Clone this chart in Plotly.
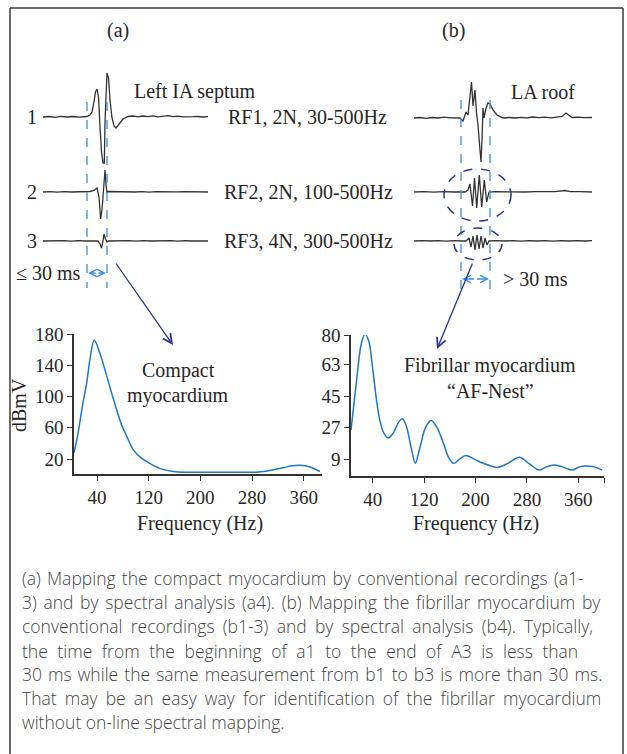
import plotly.graph_objects as go

W, H = 627, 754

# ---------------- spectral data ----------------
freq_a = [4.5, 10, 14, 19, 24, 29, 35.8, 44.6, 52, 60, 70.5, 78, 86, 96, 106, 117, 137, 158,
          180, 220, 260, 290, 312, 330, 340, 354, 370, 385]
dbmv_a = [28, 50, 70, 95, 117, 147, 172, 155, 135, 112, 83, 64, 49, 32, 23, 16.6, 8, 4,
          3, 3.2, 3, 3.3, 6, 9, 11, 12, 9.8, 4]

freq_b = [6, 15, 22, 28, 34, 40, 46, 51, 57, 64, 72, 80, 86, 92, 100, 106, 113, 122, 131, 140,
          150, 158, 166, 175, 185, 200, 216, 234, 250, 268, 283, 299, 310, 322, 335, 350, 362,
          371, 385, 397]
dbmv_b = [25.6, 55, 75, 80.5, 76, 60, 42, 31, 24, 21, 24, 30, 32, 28, 15, 6.5, 15, 27, 31, 27,
          18, 10, 6.5, 9, 11, 8.5, 6, 4.2, 6.5, 10, 6.5, 2.7, 4.5, 5.6, 4.5, 2.7, 4.5,
          5, 4.5, 2.7]

x_ticks = [40, 120, 200, 280, 360]
y_ticks_a = [20, 60, 100, 140, 180]
y_ticks_b = [9, 27, 45, 63, 80]

# ---------------- electrogram samples (time, amplitude) ----------------
a1_t = [0, 6, 12, 18, 24, 30, 36, 41, 44, 47, 49, 51, 52.5, 54, 55.5, 57, 58.5, 60, 61.3, 62, 63,
        64, 65.5, 67, 69, 71, 73, 76, 80, 85, 90, 95, 100, 105, 110, 115, 120, 125, 130, 135,
        140, 145, 150, 155, 160, 165]
a1_v = [0, 0.5, -0.3, 0.6, 0, 0.5, -0.2, 0.3, 0.5, 2, 5, 15, 25, 28, 20, -10, -35, -46, -46, -5, 30,
        44, 39, 17, -1, -9, -11, -7, -2, 0.5, 1, 0.2, 1, 0.3, 1.2, 0.2, 0.8, 1.3, 0.3, 0.8,
        0.2, 0.6, 0.3, 0.5, 0, 0.3]
a2_t = [0, 7, 14, 21, 28, 35, 42, 47, 51, 54, 56, 57.7, 59, 60.5, 62, 63, 64, 65, 71, 78, 85, 92,
        99, 106, 113, 120, 127, 134, 141, 148, 155, 165]
a2_v = [0, 0.3, -0.2, 0.3, 0, 0.3, 0, 0.5, 1.5, 4, -5, -27, -18, 2, 22, 8, -1, 0.5, 0.3, 0, 0.4, 0,
        0.3, -0.2, 0.3, 0, 0.3, 0.1, 0.3, 0, 0.3, 0]
a3_t = [0, 7, 14, 21, 28, 35, 42, 49, 55, 57, 58.5, 60, 61, 62.5, 64, 65, 72, 79, 86, 93, 100, 107,
        114, 121, 128, 135, 142, 149, 156, 165]
a3_v = [0, 0.3, 0, 0.3, -0.2, 0.3, 0, 0.3, 0, -3, -7, 0, 7, 2, -1, 0, 0.3, 0, 0.3, -0.2, 0.3, 0,
        0.3, 0, 0.3, -0.2, 0.3, 0, 0.3, 0]

b1_t = [0, 6, 12, 18, 24, 30, 36, 42, 46, 49, 52, 54, 56, 57.5, 59, 61, 62.5, 64, 66, 67, 68, 69,
        70, 72, 74, 76, 79, 83, 89, 95, 101, 107, 113, 119, 125, 131, 137, 143, 148, 152, 155,
        158, 164, 170, 178]
b1_v = [0, 0.5, -0.3, 0.5, 0, 0.8, 0.2, 0.5, 0, -3, 6, 3, 23, 36, 12, 28, 5, -7, -32, -44, -22, 10,
        0, 10, 15, 14, 8, 3, 0, 0.5, 0, 0.6, 0.2, 1, 0.3, 0.8, 0.2, 0.8, 1.5, 5, 3,
        0.5, 0.8, 0.3, 0.5]
b2_t = [0, 10, 20, 30, 40, 48, 51, 54, 56, 58.5, 60.5, 62.7, 65.3, 67.7, 70.3, 72.7, 75, 81, 91,
        101, 111, 121, 131, 141, 151, 156, 166, 178]
b2_v = [0, 0.3, -0.2, 0.3, 0, 0.2, 0, 2, 8, -14, 14, -16, 17, -15, 12, -10, 0, 0.3, 0,
        0.4, 0, 0.3, 0.2, 0.4, 1.5, 0.3, 0.4, 0]
b3_t = [0, 8, 16, 24, 32, 40, 48, 52, 55, 57, 59, 61, 63, 65, 67, 69, 71, 73, 75, 83, 91, 99, 107,
        115, 123, 131, 139, 147, 155, 163, 171, 178]
b3_v = [0, 0.4, 0, 0.4, -0.2, 0.4, 0, 0, 3, -6, 5, -9, 6, -8, 5, -7, 3, -4, 0, 0.4, 0, 0.4, -0.2,
        0.4, 0, 0.4, -0.2, 0.4, 0, 0.4, 0, 0.3]

caption = [
    "(a) Mapping the compact myocardium by conventional recordings (a1-",
    "3) and by spectral analysis (a4). (b) Mapping the fibrillar myocardium by",
    "conventional recordings (b1-3) and by spectral analysis (b4). Typically,",
    "the time from the beginning of a1 to the end of A3 is less than",
    "30 ms while the same measurement from b1 to b3 is more than 30 ms.",
    "That may be an easy way for identification of the fibrillar myocardium",
    "without on-line spectral mapping.",
]

# ---------------- styling / layout constants ----------------
SERIF = "Liberation Serif, Times New Roman, serif"
SANS = "Open Sans, Noto Sans, sans-serif"
TXT = "#262626"
BLUE = "#1f78c8"
DASHBLUE = "#3a8fd8"
NAVY = "#2b3590"
EGM = "#333333"
CAP_SIZE = 17.5
CAP_LEFT, CAP_RIGHT = 20, 601
# estimated natural line widths (px at 16 px font) used to justify the caption
CAP_NATURAL_16 = [519, 510, 504, 467, 512, 495, None]


def px(v):
    return v / W


def py(v):
    return 1 - v / H


fig = go.Figure()

fig.add_trace(go.Scatter(x=freq_a, y=dbmv_a, mode="lines",
                         line=dict(color=BLUE, width=1.5, shape="spline", smoothing=1.0),
                         xaxis="x", yaxis="y", hoverinfo="skip"))
fig.add_trace(go.Scatter(x=freq_b, y=dbmv_b, mode="lines",
                         line=dict(color=BLUE, width=1.5, shape="spline", smoothing=0.9),
                         xaxis="x2", yaxis="y2", hoverinfo="skip"))

egms = [
    (a1_t, a1_v, 43, 117), (a2_t, a2_v, 43, 192), (a3_t, a3_v, 43, 241),
    (b1_t, b1_v, 414, 118), (b2_t, b2_v, 414, 192), (b3_t, b3_v, 414, 241),
]
for t, v, x0, base in egms:
    fig.add_trace(go.Scatter(x=[x0 + ti for ti in t], y=[base - vi for vi in v], mode="lines",
                             line=dict(color=EGM, width=1.3), xaxis="x3", yaxis="y3",
                             hoverinfo="skip"))

axis_common = dict(showgrid=False, zeroline=False, showline=True, linecolor="#333", linewidth=1.5,
                   ticks="outside", ticklen=5, tickwidth=1.3, tickcolor="#333",
                   tickfont=dict(family=SERIF, size=19, color=TXT), automargin=False)

fig.update_layout(
    width=W, height=H, margin=dict(l=0, r=0, t=0, b=0, autoexpand=False),
    paper_bgcolor="white", plot_bgcolor="rgba(0,0,0,0)", showlegend=False,
    xaxis=dict(domain=[px(74), px(322)], range=[4.4, 388.3], tickvals=x_ticks, anchor="y", **axis_common),
    yaxis=dict(domain=[py(474), py(334)], range=[0.8, 180], tickvals=y_ticks_a, anchor="x", **axis_common),
    xaxis2=dict(domain=[px(351), px(604)], range=[6, 400], tickvals=x_ticks + [400],
                ticktext=[str(v) for v in x_ticks] + [""], anchor="y2", **axis_common),
    yaxis2=dict(domain=[py(476), py(335)], range=[-0.73, 80], tickvals=y_ticks_b, anchor="x2", **axis_common),
    xaxis3=dict(domain=[0, 1], range=[0, W], visible=False, anchor="y3"),
    yaxis3=dict(domain=[0, 1], range=[H, 0], visible=False, anchor="x3"),
)

shapes = []
# outer frame (left, top and right edges)
for x0, x1, y0, y1 in [(10, 10, 8, H), (10, 623, 8, 8), (623, 623, 8, H)]:
    shapes.append(dict(type="line", xref="x3", yref="y3", x0=x0, x1=x1, y0=y0, y1=y1,
                       line=dict(color="#3a3a3a", width=1.5)))
for xv, y0, y1 in [(87, 102, 288), (107, 102, 288), (461, 100, 297), (490, 100, 297)]:
    shapes.append(dict(type="line", xref="x3", yref="y3", x0=xv, x1=xv, y0=y0, y1=y1,
                       line=dict(color=DASHBLUE, width=1.3, dash="dash")))
for x0, x1, y0, y1 in [(444, 511, 169, 221), (454, 502, 228, 260)]:
    shapes.append(dict(type="circle", xref="x3", yref="y3", x0=x0, x1=x1, y0=y0, y1=y1,
                       line=dict(color=NAVY, width=1.5, dash="dash")))
fig.update_layout(shapes=shapes)

ann = []


def text(x, y, s, size=20, anchor="center", family=SERIF, color=TXT, angle=0):
    ann.append(dict(x=x, y=y, xref="x3", yref="y3", text=s, showarrow=False, xanchor=anchor,
                    yanchor="middle", textangle=angle,
                    font=dict(family=family, size=size, color=color)))


text(118, 30, "(a)")
text(453, 30, "(b)")
text(195, 91, "Left IA septum")
text(543, 92, "LA roof")
for lbl, yv in [("1", 117), ("2", 192), ("3", 241)]:
    text(32, yv, lbl)
text(226, 117, "RF1, 2N, 30-500Hz", anchor="left")
text(222, 192, "RF2, 2N, 100-500Hz", anchor="left")
text(222, 241, "RF3, 4N, 300-500Hz", anchor="left")
text(83, 273, "≤ 30 ms", anchor="right")
text(501, 279, "> 30 ms", anchor="left")
text(178, 370, "Compact")
text(178, 395, "myocardium")
text(490, 365, "Fibrillar myocardium")
text(490, 391, "“AF-Nest”")
text(200, 523, "Frequency (Hz)")
text(476, 523, "Frequency (Hz)")
text(19, 405, "dBmV", angle=-90)

scale = CAP_SIZE / 16.0
for i, line in enumerate(caption):
    words = line.split(" ")
    nat = CAP_NATURAL_16[i]
    if nat is None or len(words) < 2:
        s = line
    else:
        extra = (CAP_RIGHT - CAP_LEFT) - nat * scale
        per_gap = max(extra, 0) / (len(words) - 1)
        fs = per_gap / 0.26
        if fs >= 1:
            sep = ' <span style="font-size:%.1fpx">\u00a0</span>' % fs
        else:
            sep = " "
        s = sep.join(words)
    ann.append(dict(x=CAP_LEFT, y=578 + 24 * i, xref="x3", yref="y3", text=s, showarrow=False,
                    xanchor="left", yanchor="middle",
                    font=dict(family=SANS, size=CAP_SIZE, color="#444444", weight=300)))


def arrow(x, y, ax, ay, color, width=1.3, size=1.3):
    ann.append(dict(x=x, y=y, ax=ax, ay=ay, xref="x3", yref="y3", axref="x3", ayref="y3", text="",
                    showarrow=True, arrowhead=5, arrowsize=size, arrowwidth=width,
                    arrowcolor=color, standoff=0, startstandoff=0))


arrow(88, 273, 97, 273, DASHBLUE, size=1.1)
arrow(106, 273, 97, 273, DASHBLUE, size=1.1)
arrow(462, 279, 475.5, 279, DASHBLUE, size=1.1)
arrow(489, 279, 475.5, 279, DASHBLUE, size=1.1)
arrow(173, 345, 115, 262, NAVY, width=1.3, size=1.4)
arrow(437, 349, 473, 262, NAVY, width=1.3, size=1.4)

fig.update_layout(annotations=ann)
fig.write_html("out.html")
